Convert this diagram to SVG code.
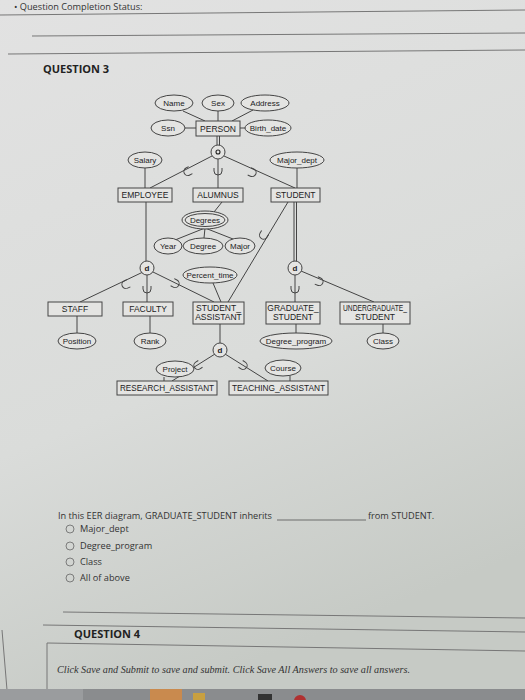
<svg xmlns="http://www.w3.org/2000/svg" width="525" height="700" viewBox="0 0 525 700">
<defs>
<linearGradient id="bg" x1="0" y1="0" x2="0.3" y2="1">
<stop offset="0" stop-color="#e2e2e2"/>
<stop offset="0.6" stop-color="#dadcda"/>
<stop offset="1" stop-color="#c6cac5"/>
</linearGradient>
<path id="sub" d="M-4,-4 v3 a4,4 0 0 0 8,0 v-3" fill="none" stroke="#444" stroke-width="1"/>
<style>
.e{fill:#e4e4e2;stroke:#444;stroke-width:1}
.b{fill:#e4e4e2;stroke:#444;stroke-width:1}
.l{stroke:#444;stroke-width:1;fill:none}
.t{font-family:"Liberation Sans",Arial,sans-serif;font-size:8px;fill:#222;text-anchor:middle}
.tb{font-family:"Liberation Sans",Arial,sans-serif;font-size:8.5px;fill:#222;text-anchor:middle}
.q{font-family:"Open Sans","Liberation Sans",sans-serif;font-size:9.2px;fill:#333}
.h{font-family:"Open Sans","Liberation Sans",sans-serif;font-size:11px;font-weight:bold;fill:#222}
.r{fill:none;stroke:#666;stroke-width:0.8}
.sep{stroke:#777;stroke-width:1;fill:none}
</style>
</defs>
<rect width="525" height="700" fill="url(#bg)"/>
<!-- page chrome -->
<text x="14" y="10" class="q" font-size="9" fill="#555">• Question Completion Status:</text>
<path class="sep" d="M0,15 L525,10"/>
<path class="sep" d="M32,36 L525,33"/>
<path class="sep" d="M8,54 L525,50"/>
<text x="43" y="73" class="h">QUESTION 3</text>

<!-- connectors -->
<g id="connectors">
<path class="l" d="M183,111 L205,121 M218,111 L218,121 M253,110 L232,121 M185,128 L196,128 M240,128 L246,128"/>
<path class="l" d="M217,136 L217,145 M219.5,136 L219.5,145"/>
<path class="l" d="M212,156 L150,188 M218,159 L218,188 M224,156 L295,188"/>
<path class="l" d="M145,168 L145,188 M297,168 L297,188"/>
<path class="l" d="M222,202 L214,212 M205,228 L175,240 M205,228 L204,238 M205,228 L233,239"/>
<path class="l" d="M146,202 L146,261"/>
<path class="l" d="M294,202 L294,261 M296.5,202 L296.5,261"/>
<path class="l" d="M288,202 L228,302"/>
<path class="l" d="M143,272 L80,302 M147,275 L147,302 M153,272 L214,302"/>
<path class="l" d="M213,283 L221,302"/>
<path class="l" d="M295,275 L295,302 M301,271 L374,302"/>
<path class="l" d="M77,316 L77,333 M150,316 L150,333 M296,324 L296,333 M383,324 L383,333"/>
<path class="l" d="M220,324 L220,343 M215,354 L172,381 M225,354 L268,381"/>
<path class="l" d="M164,377 L164,381 M290,376 L290,381"/>
<use href="#sub" transform="translate(187,172) rotate(62)"/>
<use href="#sub" transform="translate(218,172)"/>
<use href="#sub" transform="translate(253,173) rotate(-65)"/>
<use href="#sub" transform="translate(263,236) rotate(31)"/>
<use href="#sub" transform="translate(125,285) rotate(64)"/>
<use href="#sub" transform="translate(147,290)"/>
<use href="#sub" transform="translate(176,284) rotate(-63)"/>
<use href="#sub" transform="translate(295,290)"/>
<use href="#sub" transform="translate(320,282) rotate(-67)"/>
<use href="#sub" transform="translate(197,366) rotate(58)"/>
<use href="#sub" transform="translate(244,366) rotate(-58)"/>
</g>

<!-- attribute ellipses -->
<g id="Name"><ellipse class="e" cx="174" cy="103" rx="19" ry="8"/><text class="t" x="174" y="106">Name</text></g>
<g id="Sex"><ellipse class="e" cx="218" cy="103" rx="16" ry="8"/><text class="t" x="218" y="106">Sex</text></g>
<g id="Address"><ellipse class="e" cx="265" cy="103" rx="24" ry="8"/><text class="t" x="265" y="106">Address</text></g>
<g id="Ssn"><ellipse class="e" cx="168" cy="128" rx="17" ry="8"/><text class="t" x="168" y="131">Ssn</text></g>
<g id="PERSON"><rect class="b" x="196" y="121" width="44" height="15"/><text class="tb" x="218" y="131.5">PERSON</text></g>
<g id="Birth_date"><ellipse class="e" cx="268" cy="128" rx="23" ry="8"/><text class="t" x="268" y="131">Birth_date</text></g>
<g id="o"><circle class="e" cx="218" cy="152" r="7"/><circle cx="218" cy="152" r="2" fill="none" stroke="#222" stroke-width="1.1"/></g>
<g id="Salary"><ellipse class="e" cx="145" cy="160" rx="17" ry="8"/><text class="t" x="145" y="163">Salary</text></g>
<g id="Major_dept"><ellipse class="e" cx="297" cy="160" rx="27" ry="8"/><text class="t" x="297" y="163">Major_dept</text></g>
<g id="EMPLOYEE"><rect class="b" x="118" y="188" width="54" height="14"/><text class="tb" x="145" y="198">EMPLOYEE</text></g>
<g id="ALUMNUS"><rect class="b" x="193" y="188" width="50" height="14"/><text class="tb" x="218" y="198">ALUMNUS</text></g>
<g id="STUDENT"><rect class="b" x="271" y="188" width="49" height="14"/><text class="tb" x="295.5" y="198">STUDENT</text></g>
<g id="Degrees"><ellipse class="e" cx="205" cy="220" rx="23" ry="9"/><ellipse class="e" cx="205" cy="220" rx="20" ry="6.5"/><text class="t" x="205" y="223">Degrees</text></g>
<g id="Year"><ellipse class="e" cx="168" cy="246" rx="14" ry="8"/><text class="t" x="168" y="249">Year</text></g>
<g id="Degree"><ellipse class="e" cx="203" cy="246" rx="20" ry="8"/><text class="t" x="203" y="249">Degree</text></g>
<g id="Major"><ellipse class="e" cx="240" cy="246" rx="15" ry="8"/><text class="t" x="240" y="249">Major</text></g>
<g id="d1"><circle class="e" cx="147" cy="268" r="7"/><text class="t" x="147" y="271" font-weight="bold">d</text></g>
<g id="Percent_time"><ellipse class="e" cx="210" cy="275" rx="27" ry="8"/><text class="t" x="210" y="278">Percent_time</text></g>
<g id="d2"><circle class="e" cx="295" cy="268" r="7"/><text class="t" x="295" y="271" font-weight="bold">d</text></g>
<g id="STAFF"><rect class="b" x="48" y="302" width="54" height="14"/><text class="tb" x="75" y="312">STAFF</text></g>
<g id="FACULTY"><rect class="b" x="123" y="302" width="50" height="14"/><text class="tb" x="148" y="312">FACULTY</text></g>
<g id="STUDENT_ASSISTANT"><rect class="b" x="193" y="302" width="51" height="22"/><text class="tb" x="218.5" y="311">STUDENT_</text><text class="tb" x="218.5" y="320">ASSISTANT</text></g>
<g id="GRADUATE_STUDENT"><rect class="b" x="266" y="302" width="54" height="22"/><text class="tb" x="293" y="311">GRADUATE_</text><text class="tb" x="293" y="320">STUDENT</text></g>
<g id="UNDERGRADUATE_STUDENT"><rect class="b" x="340" y="302" width="70" height="22"/><text class="tb" x="375" y="311" textLength="64" lengthAdjust="spacingAndGlyphs">UNDERGRADUATE_</text><text class="tb" x="375" y="320">STUDENT</text></g>
<g id="Position"><ellipse class="e" cx="77" cy="341" rx="19" ry="8"/><text class="t" x="77" y="344">Position</text></g>
<g id="Rank"><ellipse class="e" cx="150" cy="341" rx="16" ry="8"/><text class="t" x="150" y="344">Rank</text></g>
<g id="Degree_program"><ellipse class="e" cx="296" cy="341" rx="36" ry="8"/><text class="t" x="296" y="344">Degree_program</text></g>
<g id="Class"><ellipse class="e" cx="383" cy="341" rx="16" ry="8"/><text class="t" x="383" y="344">Class</text></g>
<g id="d3"><circle class="e" cx="220" cy="350" r="7"/><text class="t" x="220" y="353" font-weight="bold">d</text></g>
<g id="Project"><ellipse class="e" cx="175" cy="369" rx="19" ry="8"/><text class="t" x="175" y="372">Project</text></g>
<g id="Course"><ellipse class="e" cx="283" cy="368" rx="18" ry="8"/><text class="t" x="283" y="371">Course</text></g>
<g id="RESEARCH_ASSISTANT"><rect class="b" x="117" y="381" width="100" height="14"/><text class="tb" x="167" y="391" textLength="94" lengthAdjust="spacingAndGlyphs">RESEARCH_ASSISTANT</text></g>
<g id="TEACHING_ASSISTANT"><rect class="b" x="229" y="381" width="99" height="14"/><text class="tb" x="278.5" y="391" textLength="93" lengthAdjust="spacingAndGlyphs">TEACHING_ASSISTANT</text></g>

<!-- question -->
<text x="58" y="519" class="q">In this EER diagram, GRADUATE_STUDENT inherits</text>
<path d="M277,520 L366,520" stroke="#444" stroke-width="0.7"/>
<text x="368" y="519" class="q">from STUDENT.</text>
<circle class="r" cx="70" cy="529" r="4"/><text x="80" y="532" class="q">Major_dept</text>
<circle class="r" cx="70" cy="546" r="4"/><text x="80" y="549" class="q">Degree_program</text>
<circle class="r" cx="70" cy="562" r="4"/><text x="80" y="565" class="q">Class</text>
<circle class="r" cx="70" cy="578" r="4"/><text x="80" y="581" class="q">All of above</text>

<path class="sep" d="M63,612 L525,618"/>
<path class="sep" d="M43,625 L525,632"/>
<text x="74" y="638" class="h" font-size="10">QUESTION 4</text>
<path class="sep" d="M47,690 L47,643 L525,651"/>
<path class="sep" d="M2,630 L7,690"/>
<text x="57" y="673" font-family="Liberation Serif,serif" font-style="italic" font-size="10.2" fill="#333">Click Save and Submit to save and submit. Click Save All Answers to save all answers.</text>
<!-- taskbar -->
<rect x="0" y="689" width="525" height="11" fill="#8a8c8e"/>
<rect x="0" y="689" width="83" height="11" fill="#9a9c9e"/>
<rect x="150" y="689" width="32" height="11" fill="#c98a4e"/>
<rect x="193" y="693" width="12" height="7" fill="#c8a040"/>
<rect x="258" y="694" width="14" height="6" fill="#333"/>
<circle cx="300" cy="701" r="6" fill="#b03030"/>
</svg>
